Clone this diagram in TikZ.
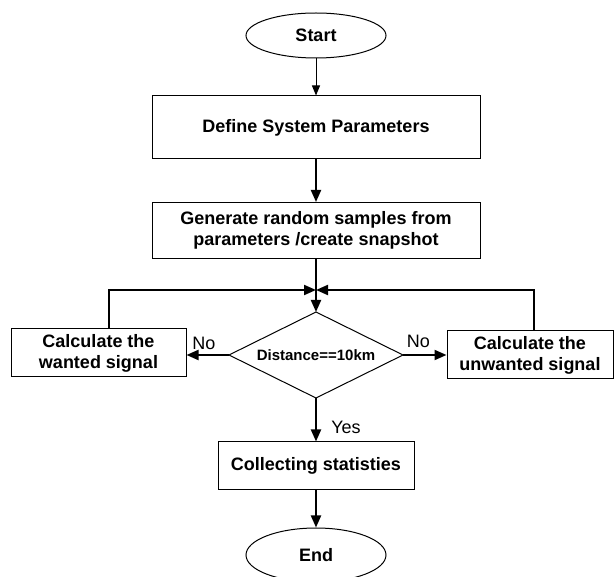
\documentclass[tikz,border=0pt]{standalone}
\usepackage{fontspec}
\setmainfont{Liberation Sans}
\usetikzlibrary{shapes.geometric,arrows.meta}
\begin{document}
\begin{tikzpicture}[x=1pt,y=-1pt,
  txt/.style={font=\fontsize{18}{21}\selectfont\bfseries},
  boxnode/.style={draw,line width=1pt,inner sep=0pt,align=center,txt},
  term/.style={draw,line width=1pt,ellipse,inner sep=0pt,txt},
  thinarrow/.style={line width=1pt,-{Triangle[length=10pt,width=8pt]}},
  thickarrow/.style={line width=2pt,-{Triangle[length=12pt,width=10pt]}},
  lbl/.style={font=\fontsize{18}{21}\selectfont,inner sep=0pt}]
\useasboundingbox (0,0) rectangle (614,577);
\node[term,minimum width=140pt,minimum height=45pt] (start) at (316,35.5) {Start};
\node[boxnode,minimum width=328pt,minimum height=63pt] (def) at (316,127.5) {Define System Parameters};
\node[boxnode,minimum width=328pt,minimum height=56pt] (gen) at (316,230.5) {Generate random samples from\\parameters /create snapshot};
\coordinate (dT) at (316,312);
\coordinate (dR) at (403,355);
\coordinate (dB) at (316,398);
\coordinate (dL) at (229,355);
\draw[line width=1pt] (dT) -- (dR) -- (dB) -- (dL) -- cycle;
\node[inner sep=0pt,font=\fontsize{15}{18}\selectfont\bfseries] (dec) at (316,355) {Distance==10km};
\node[boxnode,minimum width=175pt,minimum height=48pt] (lbox) at (98.5,353) {Calculate the\\wanted signal};
\node[boxnode,minimum width=166pt,minimum height=48pt] (rbox) at (530,355) {Calculate the\\unwanted signal};
\node[boxnode,minimum width=196pt,minimum height=48pt] (coll) at (316,466) {Collecting statisties};
\node[term,minimum width=140pt,minimum height=54pt] (end) at (316,555) {End};
\coordinate (j) at (316,290);
\node[lbl] (no1) at (204,343) {No};
\node[lbl] (no2) at (418.5,341) {No};
\node[lbl] (yes) at (346,427) {Yes};
\draw[thinarrow] (start) -- (def);
\draw[thickarrow] (def) -- (gen);
\draw[thickarrow] (gen) -- (dT);
\draw[thickarrow] ([xshift=10.5pt]lbox.north) |- (j);
\draw[thickarrow] ([xshift=4pt]rbox.north) |- (j);
\draw[thickarrow] (dL) -- (dL -| lbox.east);
\draw[thickarrow] (dR) -- (dR -| rbox.west);
\draw[thickarrow] (dB) -- (coll.north);
\draw[thickarrow] (coll) -- (end);
\end{tikzpicture}
\end{document}
